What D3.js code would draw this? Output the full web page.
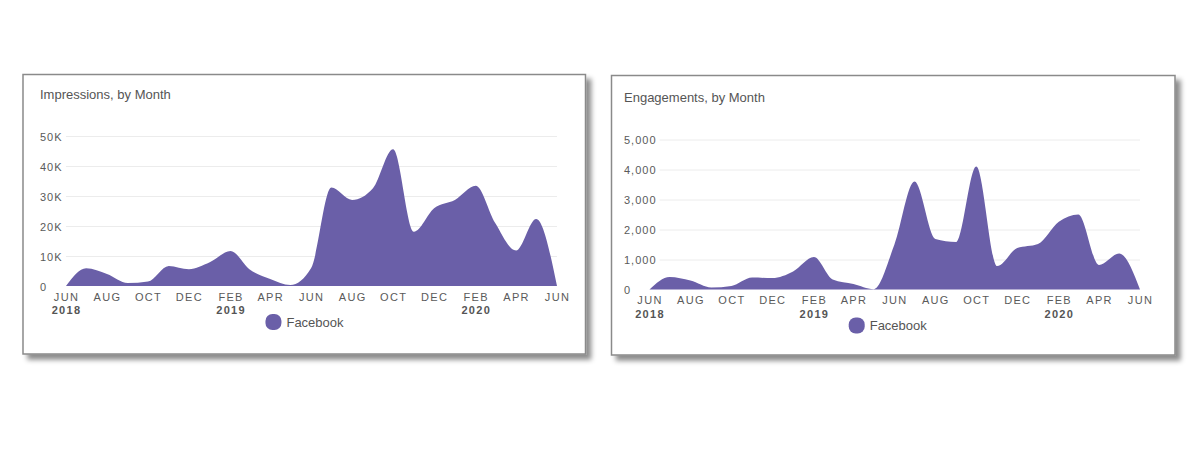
<!DOCTYPE html>
<html><head><meta charset="utf-8">
<script src="https://cdn.jsdelivr.net/npm/d3@7"></script>
<style>
body{margin:0;background:#fff;}
svg{display:block;font-family:"Liberation Sans",Arial,Helvetica,sans-serif;}
</style>
</head><body>
<svg id="c" width="1200" height="450"></svg>
<script>
// ---------- DATA ----------
const months = ["2018-06","2018-07","2018-08","2018-09","2018-10","2018-11","2018-12",
  "2019-01","2019-02","2019-03","2019-04","2019-05","2019-06","2019-07","2019-08","2019-09",
  "2019-10","2019-11","2019-12","2020-01","2020-02","2020-03","2020-04","2020-05","2020-06"];
const impressions = [0, 5900, 4000, 1000, 1500, 6700, 5600, 7900, 11700, 5600, 2300, 300,
  6000, 32800, 28700, 32600, 45600, 18100, 25900, 28700, 33400, 21000, 11800, 22300, 0];
const engagements = [0, 420, 300, 70, 120, 400, 380, 600, 1080, 330, 180, 10,
  1500, 3600, 1680, 1580, 4100, 780, 1380, 1520, 2260, 2500, 820, 1200, 0];
const impressionTicks = [0, 10000, 20000, 30000, 40000, 50000];
const impressionTickLabels = ["0", "10K", "20K", "30K", "40K", "50K"];
const engagementTicks = [0, 1000, 2000, 3000, 4000, 5000];
const engagementTickLabels = ["0", "1,000", "2,000", "3,000", "4,000", "5,000"];
const monthTicks = ["2018-06","2018-08","2018-10","2018-12","2019-02","2019-04","2019-06",
  "2019-08","2019-10","2019-12","2020-02","2020-04","2020-06"];
const monthTickLabels = ["JUN","AUG","OCT","DEC","FEB","APR","JUN","AUG","OCT","DEC","FEB","APR","JUN"];
const yearTickLabels = ["2018","","","","2019","","","","","","2020","",""];
const seriesName = "Facebook";
const titles = ["Impressions, by Month", "Engagements, by Month"];

// ---------- LAYOUT ----------
const parse = d3.timeParse("%Y-%m");
const color = "#6a5fa8";
const svg = d3.select("#c");
const defs = svg.append("defs");
const f = defs.append("filter").attr("id","sh").attr("x","-5%").attr("y","-5%").attr("width","115%").attr("height","120%");
f.append("feDropShadow").attr("dx",5).attr("dy",5).attr("stdDeviation",2.5)
  .attr("flood-color","#000").attr("flood-opacity",0.45);

const panels = [
  {box:[23,74.5,562.5,279.5], titlePos:[40,94], x0:66, x1:557, yZero:286, yTop:136, labelX:40,
   values:impressions, ticks:impressionTicks, tickLabels:impressionTickLabels, title:titles[0]},
  {box:[611.5,75.5,563.5,279.5], titlePos:[624,97], x0:649.5, x1:1140, yZero:289.5, yTop:139.5, labelX:624,
   values:engagements, ticks:engagementTicks, tickLabels:engagementTickLabels, title:titles[1]}
];

const ff = '"Liberation Sans",Arial,sans-serif';

panels.forEach(p => {
  const g = svg.append("g");
  g.append("rect").attr("x",p.box[0]).attr("y",p.box[1]).attr("width",p.box[2]).attr("height",p.box[3])
    .attr("fill","#fff").attr("stroke","#8a8a8a").attr("stroke-width",1.5).attr("filter","url(#sh)");
  g.append("text").attr("x",p.titlePos[0]).attr("y",p.titlePos[1]).attr("dominant-baseline","central")
    .attr("font-size",13).attr("fill","#555").text(p.title);

  const x = d3.scaleTime().domain([parse(months[0]), parse(months[months.length-1])]).range([p.x0, p.x1]);
  const y = d3.scaleLinear().domain([p.ticks[0], p.ticks[p.ticks.length-1]]).range([p.yZero, p.yTop]);

  // y labels
  const yl = g.append("g").attr("transform",`translate(${p.labelX},0)`)
    .call(d3.axisLeft(y).tickValues(p.ticks).tickSize(0).tickPadding(0)
      .tickFormat((d,i) => p.tickLabels[i]));
  yl.select(".domain").remove();
  yl.selectAll("text").attr("text-anchor","start").attr("x",0).attr("dy",null)
    .attr("dominant-baseline","central")
    .attr("font-size",11).attr("letter-spacing","1px").attr("fill","#5a5a5a")
    .style("font-family",ff);
  let maxW = 0;
  yl.selectAll("text").each(function(){ maxW = Math.max(maxW, this.getComputedTextLength()); });
  const gridStart = Math.max(p.labelX + maxW + 3, p.x0);

  // gridlines
  const grid = g.append("g").attr("transform",`translate(${p.x1},0)`)
    .call(d3.axisLeft(y).tickValues(p.ticks.slice(1)).tickSize(p.x1 - gridStart).tickFormat(""));
  grid.select(".domain").remove();
  grid.selectAll("line").attr("stroke","#ececec").attr("stroke-width",1);

  // area
  const area = d3.area().x((d,i) => x(parse(months[i]))).y0(y(0)).y1(d => y(d)).curve(d3.curveMonotoneX);
  g.append("path").datum(p.values).attr("d",area).attr("fill",color);

  // x axis
  const xa = g.append("g").attr("transform",`translate(0,${p.yZero})`)
    .call(d3.axisBottom(x).tickValues(monthTicks.map(parse)).tickSize(0).tickPadding(0)
      .tickFormat((d,i) => monthTickLabels[i]));
  xa.select(".domain").remove();
  xa.selectAll("text").attr("dy",null).attr("y",14.7)
    .attr("font-size",11).attr("letter-spacing","1.3px").attr("fill","#5a5a5a")
    .style("font-family",ff);
  xa.selectAll(".tick").append("text").attr("y",28.2).attr("text-anchor","middle")
    .attr("font-size",11).attr("font-weight","bold").attr("letter-spacing","1.3px").attr("fill","#555")
    .style("font-family",ff)
    .text((d,i) => yearTickLabels[i]);

  // legend
  const lg = g.append("g");
  const lt = lg.append("text").attr("font-size",13).attr("fill","#555").attr("dominant-baseline","central").text(seriesName);
  const tw = lt.node().getComputedTextLength();
  const cx = (p.x0 + p.x1)/2 - 7;
  const lx = cx - (16 + 5 + tw)/2;
  const ly = p.yZero + 36;
  lg.append("rect").attr("x",lx).attr("y",ly-8).attr("width",16).attr("height",16).attr("rx",7).attr("fill",color);
  lt.attr("x",lx+21).attr("y",ly);
});
</script>
</body></html>
